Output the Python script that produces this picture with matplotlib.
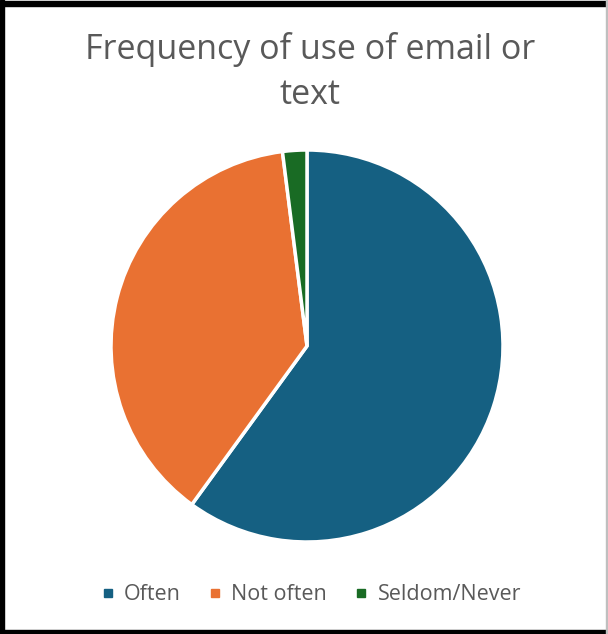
import matplotlib.pyplot as plt
from matplotlib.lines import Line2D
from matplotlib.patches import Rectangle

categories = ['Often', 'Not often', 'Seldom/Never']
shares = [60, 38, 2]
colors = ['#156082', '#E97132', '#196B24']

plt.rcParams['font.family'] = ['Open Sans', 'DejaVu Sans']

W, H = 608, 634
fig = plt.figure(figsize=(W / 100, H / 100), dpi=100)

# pie area in pixel units -> figure fraction
cx, cy, r = 307, 346, 196
ax = fig.add_axes([(cx - r) / W, 1 - (cy + r) / H, 2 * r / W, 2 * r / H])
ax.pie(shares, colors=colors, startangle=90, counterclock=False, radius=1,
       wedgeprops=dict(edgecolor='white', linewidth=2.5))
ax.set_xlim(-1.0, 1.0)
ax.set_ylim(-1.0, 1.0)
ax.set_aspect('equal')
ax.axis('off')

fig.text(310 / W, 1 - 72 / H, 'Frequency of use of email or\ntext', ha='center', va='center',
         fontsize=24.5, color='#595959', linespacing=1.4)

handles = [Line2D([], [], marker='s', linestyle='none', markersize=6,
                  markerfacecolor=c, markeredgecolor=c) for c in colors]
fig.legend(handles, categories, loc='center', bbox_to_anchor=(311 / W, 1 - 595 / H),
           ncol=3, frameon=False, fontsize=15.5, labelcolor='#595959',
           handlelength=0.6, handletextpad=0.45, columnspacing=1.3)

# outer frame
fig.patches.append(Rectangle((0, 0), 4 / W, 1, transform=fig.transFigure, color='black'))
fig.patches.append(Rectangle((0, 1 - 6 / H), 1, 5 / H, transform=fig.transFigure, color='black'))
fig.patches.append(Rectangle((0, 0), 1, 4 / H, transform=fig.transFigure, color='black'))
fig.patches.append(Rectangle((1 - 2 / W, 0), 1 / W, 1, transform=fig.transFigure, color='#bfbfbf'))

fig.savefig('out.png', dpi=100)
